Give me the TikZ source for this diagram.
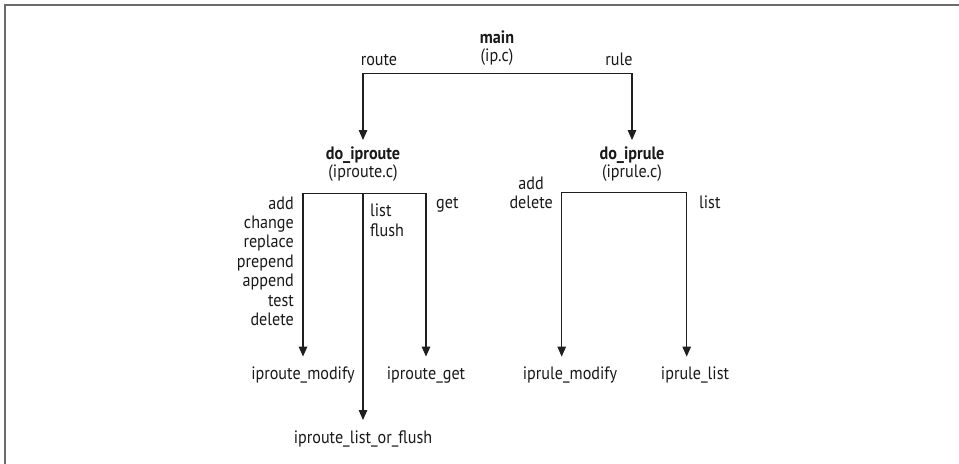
\documentclass[tikz,border=0pt]{standalone}
\usepackage{fontspec}
\setmainfont[FakeStretch=0.9]{PT Sans}
\usetikzlibrary{arrows.meta}
\begin{document}
\begin{tikzpicture}[x=1bp,y=-1bp,
  lbl/.style={inner sep=0pt, text=black!90, font=\fontsize{18}{19.5}\selectfont},
  fn/.style={lbl, align=center},
  conn/.style={line width=1.3bp, draw=black!88},
  arr/.style={conn, -{Triangle[length=10bp,width=8.5bp]}},
  frame/.style={line width=1.4bp, draw=black!58}]
\useasboundingbox (0,0) rectangle (959,464);
\draw[frame] (5,464) -- (5,5) -- (959,5);

% function nodes
\node[fn, anchor=base] (main) at (497,44) {\textbf{main}};
\node[fn, anchor=base] (mainf) at (497,62) {(ip.c)};
\node[fn, anchor=base] (iproute) at (363,160) {\textbf{do\_iproute}};
\node[fn, anchor=base] (iproutef) at (363,177.5) {(iproute.c)};
\node[fn, anchor=base] (iprule) at (632,160) {\textbf{do\_iprule}};
\node[fn, anchor=base] (iprulef) at (632,177.5) {(iprule.c)};
\node[fn, anchor=base] (rmod) at (303,379.5) {iproute\_modify};
\node[fn, anchor=base] (rget) at (426,379.5) {iproute\_get};
\node[fn, anchor=base] (rlist) at (363,443.5) {iproute\_list\_or\_flush};
\node[fn, anchor=base] (umod) at (570,379.5) {iprule\_modify};
\node[fn, anchor=base] (ulist) at (695,379.5) {iprule\_list};

% branch labels (base anchor = baseline of the last line)
\node[lbl, anchor=base] (lroute) at (379,65.5) {route};
\node[lbl, anchor=base] (lrule) at (619,65.5) {rule};
\node[lbl, anchor=base east, align=right] (lmod) at (294,325.7)
  {add\\change\\replace\\prepend\\append\\test\\delete};
\node[lbl, anchor=base west, align=left] (llist) at (370,236.2) {list\\flush};
\node[lbl, anchor=base west] (lget) at (436,208.3) {get};
\node[lbl, anchor=base east, align=center] (ladd) at (553,208.8) {add\\delete};
\node[lbl, anchor=base west] (lulist) at (699,208.7) {list};

% bars
\coordinate (mbar) at (497,73.3);
\coordinate (rbar) at (363,193.3);
\coordinate (ubar) at (624.6,192.7);

% connectors
\draw[arr] (mbar) -| ([yshift=7bp]iproute.north);
\draw[arr] (mbar) -| ([yshift=7bp]iprule.north);
\draw[arr] (rbar) -| ([yshift=10bp]rmod.north);
\draw[arr] (rbar) -- ([yshift=10.5bp]rlist.north);
\draw[arr] (rbar) -| ([yshift=10bp]rget.north);
\draw[arr] (ubar) -| ([xshift=-8.3bp,yshift=10bp]umod.north);
\draw[arr] (ubar) -| ([xshift=-8.3bp,yshift=10bp]ulist.north);
\end{tikzpicture}
\end{document}
